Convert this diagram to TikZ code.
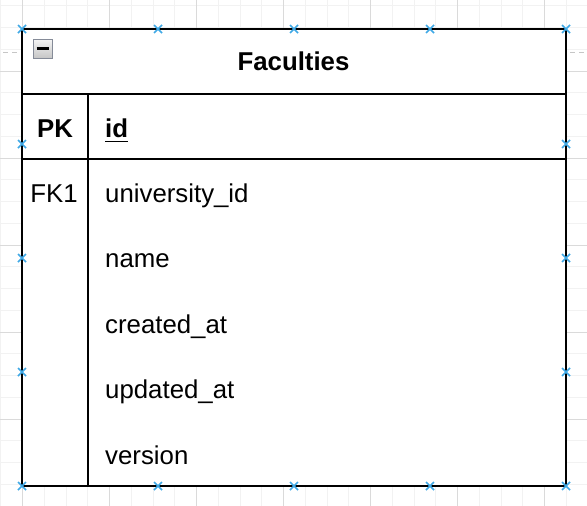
\documentclass[tikz,border=0pt]{standalone}
\usepackage{fontspec}
\setmainfont{Liberation Sans}
\usetikzlibrary{calc}
\definecolor{minorgrid}{HTML}{F2F2F2}
\definecolor{majorgrid}{HTML}{DADADA}
\definecolor{xblue}{HTML}{3FA9E6}
\definecolor{iconborder}{HTML}{858B98}
\begin{document}
\begin{tikzpicture}[x=1pt,y=-1pt]
\tikzset{
  tbl/.style={draw=black, line width=2.2pt},
  rowtext/.style={font=\fontsize{25.8}{30}\selectfont, inner sep=0pt, anchor=base west},
  ctext/.style={font=\fontsize{25.8}{30}\selectfont, inner sep=0pt, anchor=base},
  crossmark/.style={draw=xblue, line width=1.6pt},
  guide/.style={draw=gray!45, line width=1pt, dash pattern=on 5pt off 4pt}
}
\useasboundingbox (0,0) rectangle (587,506);
\fill[white] (0,0) rectangle (587,506);
% grid
\foreach \k in {0,...,27} {
  \draw[minorgrid, line width=1pt] (0.75+21.75*\k,0) -- (0.75+21.75*\k,506);
}
\foreach \k in {0,...,23} {
  \draw[minorgrid, line width=1pt] (0,5.75+21.75*\k) -- (587,5.75+21.75*\k);
}
\foreach \k in {0,...,6} {
  \draw[majorgrid, line width=1pt] (22.5+87*\k,0) -- (22.5+87*\k,506);
}
\foreach \k in {0,...,5} {
  \draw[majorgrid, line width=1pt] (0,71+87*\k) -- (587,71+87*\k);
}
% guide dashes
\draw[guide] (3,52) -- (19,52);
\draw[guide] (570,52) -- (586,52);
% table
\fill[white] (22,29) rectangle (566,486);
\draw[tbl] (22,94) -- (566,94);
\draw[tbl] (22,159) -- (566,159);
\draw[tbl] (88,94) -- (88,486);
\draw[tbl] (22,29) rectangle (566,486);
% collapse icon
\node[draw=iconborder, line width=1pt, top color=gray!8, bottom color=gray!45,
      minimum width=19pt, minimum height=19pt, inner sep=0pt] (icon) at (42.5,48.5) {};
\draw[black, line width=2.8pt] (36.5,48.5) -- (48.5,48.5);
% texts
\node[ctext, font=\fontsize{25.8}{30}\selectfont\bfseries] (title) at (293.5,70) {Faculties};
\node[ctext, font=\fontsize{25.8}{30}\selectfont\bfseries] (pk) at (55,137) {PK};
\node[rowtext, font=\fontsize{25.8}{30}\selectfont\bfseries] (id) at (105,137) {id};
\draw[black, line width=1.8pt] ($(id.base west)+(0,4.5)$) -- ($(id.base east)+(0,4.5)$);
\node[ctext] (fk) at (54,202) {FK1};
\node[rowtext] (r1) at (105,202) {university\_id};
\node[rowtext] (r2) at (105,267.5) {name};
\node[rowtext] (r3) at (105,333) {created\_at};
\node[rowtext] (r4) at (105,398.5) {updated\_at};
\node[rowtext] (r5) at (105,464) {version};
% connection markers
\foreach \x/\y in {22/29,158/29,294/29,430/29,566/29,22/144,566/144,22/258,566/258,22/372,566/372,22/486,158/486,294/486,430/486,566/486} {
  \draw[crossmark] (\x-4,\y-4) -- (\x+4,\y+4) (\x-4,\y+4) -- (\x+4,\y-4);
}
\end{tikzpicture}
\end{document}
